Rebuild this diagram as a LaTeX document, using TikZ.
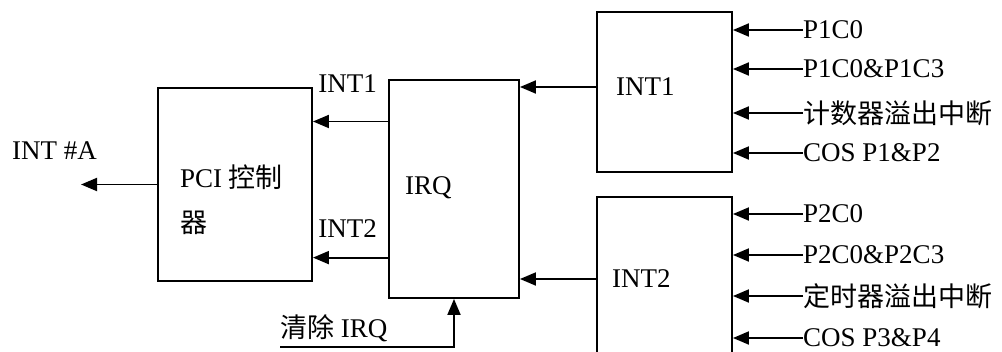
\documentclass[tikz,border=0pt]{standalone}
\usepackage{fontspec}
\setmainfont{Liberation Serif}
\newfontfamily\cjk{Noto Sans CJK SC}
\usetikzlibrary{arrows.meta, positioning, calc}

\begin{document}
\begin{tikzpicture}[x=1pt, y=-1pt,
  box/.style={rectangle, draw, line width=1.9pt, inner sep=0pt},
  lbl/.style={inner sep=0pt, font=\fontsize{27}{32}\selectfont},
  arrow/.style={-{Triangle[length=16pt,width=13pt]}, line width=1.9pt}
]
\useasboundingbox (0,0) rectangle (1002,351);
\clip (0,0) rectangle (1002,351);

% blocks
\node[box, minimum width=154pt, minimum height=193pt] (pci)  at (235,184.5) {};
\node[box, minimum width=130pt, minimum height=218pt] (irq)  at (454,189) {};
\node[box, minimum width=135pt, minimum height=160pt] (int1) at (664.5,92) {};
\node[box, minimum width=135pt, minimum height=180pt] (int2) at (664.5,287) {};

% texts inside the blocks
\node[lbl, anchor=west, align=left, font=\fontsize{27}{45}\selectfont] (pcit)
     at (180,200) {PCI {\cjk 控制}\\{\cjk 器}};
\node[lbl, anchor=west] (irqt)  at (405,188) {IRQ};
\node[lbl, anchor=west] (int1t) at (616,87) {INT1};
\node[lbl, anchor=west] (int2t) at (612,279) {INT2};

% INT1 / INT2 -> IRQ
\draw[arrow] (int1t.west -| int1.west) -- (int1t.west -| irq.east);
\draw[arrow] (int2t.west -| int2.west) -- (int2t.west -| irq.east);

% IRQ -> PCI
\coordinate (i1) at ($(irq.north west)!0.193!(irq.south west)$);
\coordinate (i2) at ($(irq.north west)!0.812!(irq.south west)$);
\draw[arrow] (i1) -- (i1 -| pci.east);
\draw[arrow] (i2) -- (i2 -| pci.east);
\node[lbl, above left=29pt and 11pt of i1] (l1) {INT1};
\node[lbl, above left=20pt and 11pt of i2] (l2) {INT2};

% PCI output
\coordinate (outA) at (81,184.5);
\draw[arrow] (pci.west) -- (outA);
\node[lbl, anchor=south west] (outAt) at (12,160) {INT \#A};

% clear IRQ
\coordinate (clr) at (280,347);
\draw[arrow] (clr) -| (irq.south);
\node[lbl, anchor=west] (clrt) at (280,328) {{\cjk 清除} IRQ};

% inputs of INT1
\node[lbl, anchor=west] (a1) at (803,30)  {P1C0};
\node[lbl, anchor=west] (a2) at (803,69)  {P1C0\&P1C3};
\node[lbl, anchor=west] (a3) at (803,113) {{\cjk 计数器溢出中断}};
\node[lbl, anchor=west] (a4) at (803,153) {COS P1\&P2};
\draw[arrow] (a1.west) -- (a1.west -| int1.east);
\draw[arrow] (a2.west) -- (a2.west -| int1.east);
\draw[arrow] (a3.west) -- (a3.west -| int1.east);
\draw[arrow] (a4.west) -- (a4.west -| int1.east);

% inputs of INT2
\node[lbl, anchor=west] (b1) at (803,214) {P2C0};
\node[lbl, anchor=west] (b2) at (803,255) {P2C0\&P2C3};
\node[lbl, anchor=west] (b3) at (803,296) {{\cjk 定时器溢出中断}};
\node[lbl, anchor=west] (b4) at (803,338) {COS P3\&P4};
\draw[arrow] (b1.west) -- (b1.west -| int2.east);
\draw[arrow] (b2.west) -- (b2.west -| int2.east);
\draw[arrow] (b3.west) -- (b3.west -| int2.east);
\draw[arrow] (b4.west) -- (b4.west -| int2.east);
\end{tikzpicture}
\end{document}
